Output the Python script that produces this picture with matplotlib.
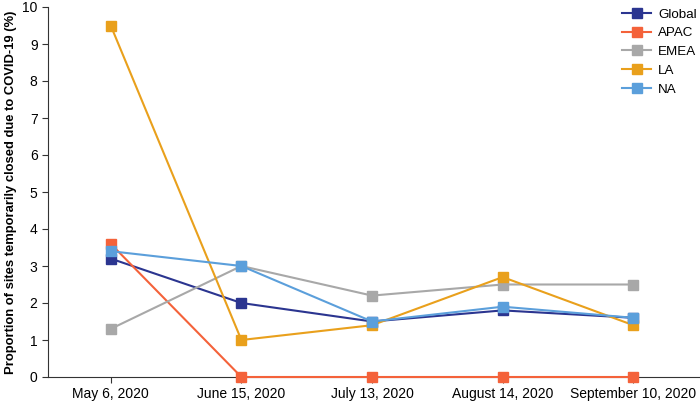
import matplotlib
matplotlib.use("Agg")
import matplotlib.pyplot as plt

plt.rcParams['font.family'] = ['Liberation Sans', 'DejaVu Sans']

dates = ['May 6, 2020', 'June 15, 2020', 'July 13, 2020', 'August 14, 2020', 'September 10, 2020']
global_vals = [3.2, 2.0, 1.5, 1.8, 1.6]
apac = [3.6, 0.0, 0.0, 0.0, 0.0]
emea = [1.3, 3.0, 2.2, 2.5, 2.5]
la = [9.5, 1.0, 1.4, 2.7, 1.4]
na = [3.4, 3.0, 1.5, 1.9, 1.6]

series = [
    ('Global', global_vals, '#2b3590'),
    ('APAC', apac, '#f4623a'),
    ('EMEA', emea, '#a8a8a8'),
    ('LA', la, '#e9a01c'),
    ('NA', na, '#5b9fdb'),
]

fig = plt.figure(figsize=(7, 4.03), dpi=100)
ax = fig.add_axes([48 / 700, 26 / 403, 652 / 700, 370 / 403])

x = list(range(len(dates)))
for name, vals, col in series:
    ax.plot(x, vals, color=col, marker='s', markersize=7, linewidth=1.5,
            label=name, clip_on=False, zorder=3)

ax.set_xlim(-0.48, 4.51)
ax.set_ylim(0, 10)
ax.set_yticks(range(0, 11))
ax.set_xticks(x)
ax.set_xticklabels(dates)
ax.tick_params(axis='both', labelsize=10, length=4, color='#333333')
ax.spines['top'].set_visible(False)
ax.spines['right'].set_visible(False)
ax.spines['left'].set_color('#333333')
ax.spines['bottom'].set_color('#333333')
ax.set_ylabel('Proportion of sites temporarily closed due to COVID-19 (%)',
              fontsize=9.4, fontweight='bold')
ax.yaxis.set_label_coords(-31 / 652, 0.5)

ax.legend(loc='upper right', bbox_to_anchor=(1.008, 1.02), frameon=False,
          fontsize=9.6, handlelength=2.2, handletextpad=0.5,
          labelspacing=0.48, borderaxespad=0.25)

plt.savefig('out.png', dpi=100)
